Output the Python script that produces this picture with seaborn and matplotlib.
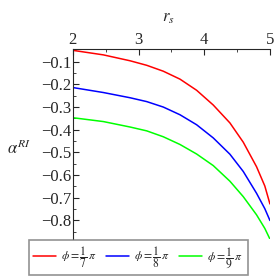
import matplotlib
matplotlib.use('Agg')
import matplotlib.pyplot as plt
import pandas as pd
import seaborn as sns
from matplotlib.ticker import MultipleLocator

# Values
rs = [2.0, 2.465, 2.871, 3.125, 3.377, 3.631, 3.884, 4.137, 4.391, 4.594, 4.796, 4.922, 5.0]
alpha_7 = [-0.050, -0.070, -0.096, -0.116, -0.142, -0.177, -0.226, -0.291, -0.370, -0.455, -0.563, -0.648, -0.727]
alpha_8 = [-0.214, -0.236, -0.259, -0.276, -0.300, -0.334, -0.378, -0.436, -0.508, -0.584, -0.680, -0.748, -0.800]
alpha_9 = [-0.347, -0.364, -0.388, -0.405, -0.431, -0.465, -0.507, -0.558, -0.627, -0.695, -0.775, -0.835, -0.882]
labels = [r'$\phi = \dfrac{1}{7}\,\pi$', r'$\phi = \dfrac{1}{8}\,\pi$', r'$\phi = \dfrac{1}{9}\,\pi$']
colors = ['#ff0000', '#0000ff', '#00ff00']

df = pd.DataFrame({
    'rs': rs * 3,
    'alpha': alpha_7 + alpha_8 + alpha_9,
    'phi': [labels[0]] * len(rs) + [labels[1]] * len(rs) + [labels[2]] * len(rs),
})

sns.set_style('ticks')
plt.rcParams['font.family'] = ['Liberation Serif', 'DejaVu Serif']
plt.rcParams['mathtext.fontset'] = 'stix'

fig = plt.figure(figsize=(2.78, 2.78), dpi=100)
ax = fig.add_axes([0.262, 0.140, 0.709, 0.683])
sns.lineplot(data=df, x='rs', y='alpha', hue='phi', palette=colors, ax=ax,
             linewidth=1.1, legend=False)

ax.set_xlim(2, 5)
ax.set_ylim(-0.882, -0.045)
for s in ['right', 'bottom']:
    ax.spines[s].set_visible(False)
ax.spines['top'].set_linewidth(0.8)
ax.spines['left'].set_linewidth(0.8)
ax.xaxis.tick_top()
ax.xaxis.set_label_position('top')
ax.xaxis.set_major_locator(MultipleLocator(1))
ax.xaxis.set_minor_locator(MultipleLocator(0.5))
ax.yaxis.set_major_locator(MultipleLocator(0.1))
ax.yaxis.set_minor_locator(MultipleLocator(0.05))
ax.tick_params(which='both', direction='in', labelsize=12, pad=1)
ax.tick_params(which='major', length=4)
ax.tick_params(which='minor', length=2.5)
ax.set_yticks([-0.1, -0.2, -0.3, -0.4, -0.5, -0.6, -0.7, -0.8])
ax.set_yticklabels(['\u22120.1', '\u22120.2', '\u22120.3', '\u22120.4', '\u22120.5',
                    '\u22120.6', '\u22120.7', '\u22120.8'])
ax.set_xlabel('')
ax.set_ylabel('')
fig.text(0.605, 0.935, r'$r_s$', fontsize=12, ha='center', va='center')
fig.text(0.068, 0.465, r'$\alpha^{RI}$', fontsize=12, ha='center', va='center')

handles = [plt.Line2D([], [], color=c, linewidth=1.1) for c in colors]
leg = fig.legend(handles, labels, loc='center', bbox_to_anchor=(0.497, 0.073), ncol=3,
                 fontsize=8.5, frameon=True, fancybox=False, handlelength=1.9,
                 handletextpad=0.45, columnspacing=0.8, borderpad=0.4,
                 borderaxespad=0)
leg.get_frame().set_edgecolor('#777777')
leg.get_frame().set_linewidth(1.2)

fig.savefig('out.png', dpi=100)
